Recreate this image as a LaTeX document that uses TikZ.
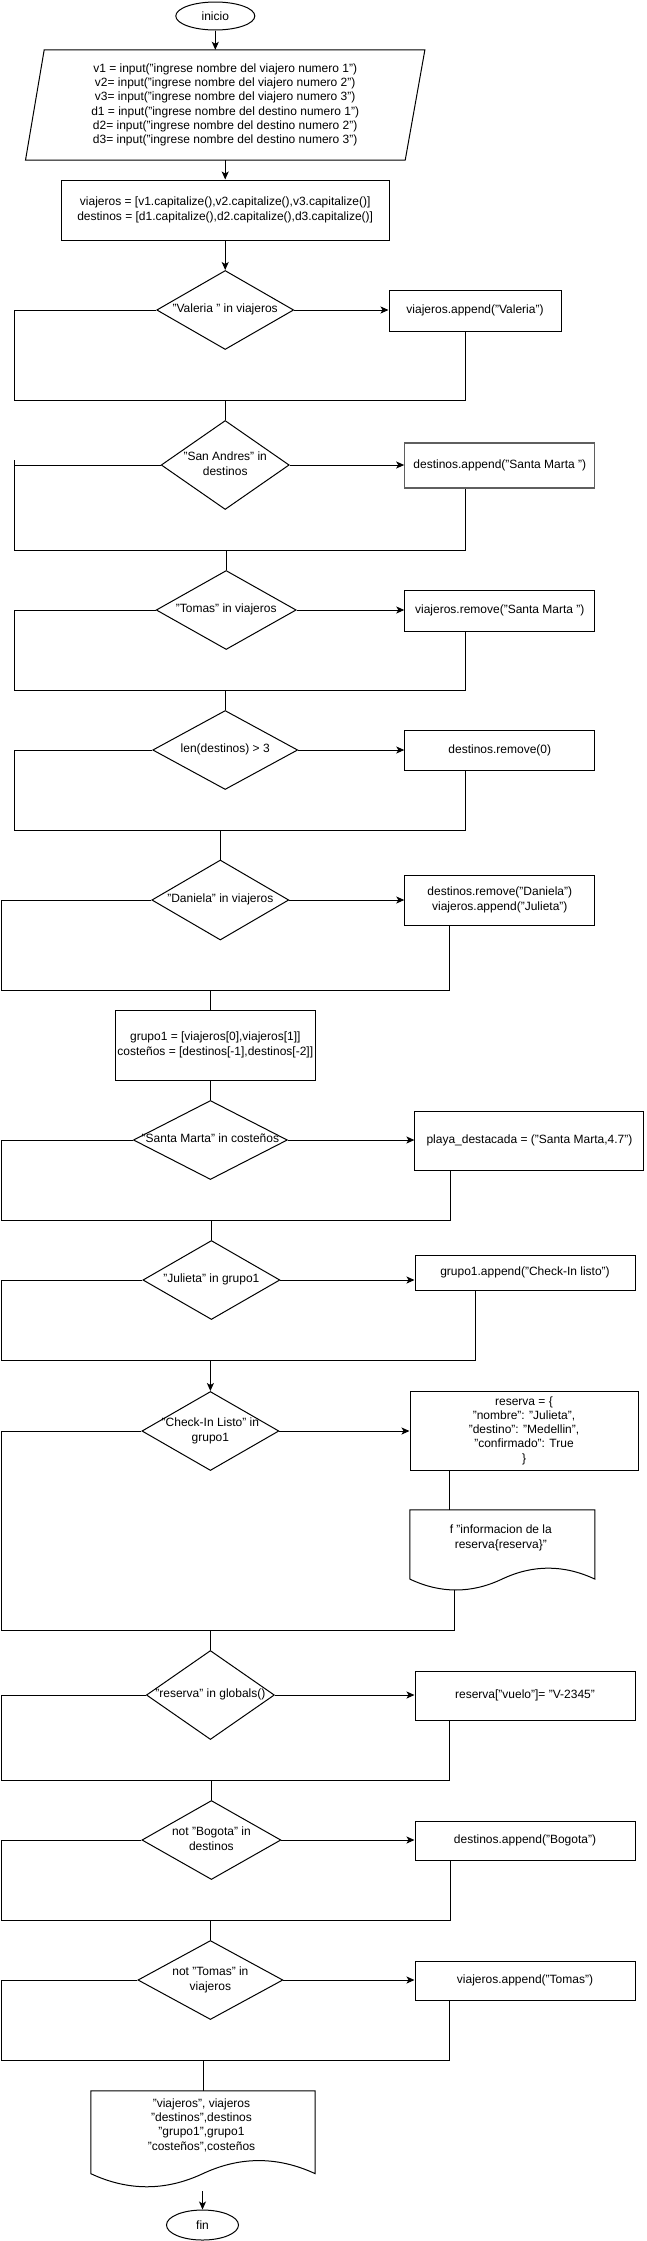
\documentclass[tikz,border=0pt]{standalone}
\usepackage{fontspec}
\setmainfont{Liberation Sans}
\usetikzlibrary{shapes.geometric,arrows.meta,calc}
\newcommand{\dtext}[1]{\makebox[0pt]{\begin{tabular}{@{}c@{}}#1\end{tabular}}}
\begin{document}
\begin{tikzpicture}[x=1pt,y=-1pt, font=\fontsize{12}{14.3}\selectfont,
 box/.style={draw, rectangle, inner sep=0pt, align=center, line width=1pt},
 diam/.style={draw, diamond, inner sep=0pt, line width=1pt},
 term/.style={draw, ellipse, inner sep=0pt, line width=1pt},
 ln/.style={line width=1pt},
 arr/.style={line width=1pt, -{Stealth[length=8pt,width=7pt,inset=2pt]}}
]
\useasboundingbox (0,0) rectangle (646,2241);

% start and input
\node[term, minimum width=79pt, minimum height=28pt] (inicio) at (215.3,16) {inicio};
\node[inner sep=0pt, minimum width=399pt, minimum height=110pt, align=center] (inp) at (225.2,105)
 {v1 = input("ingrese nombre del viajero numero 1")\\
  v2= input("ingrese nombre del viajero numero 2")\\
  v3= input("ingrese nombre del viajero numero 3")\\
  d1 = input("ingrese nombre del destino numero 1")\\
  d2= input("ingrese nombre del destino numero 2")\\
  d3= input("ingrese nombre del destino numero 3")};
\draw[ln] ($(inp.north west)+(18.7,0)$) -- (inp.north east) -- ($(inp.south east)+(-19.7,0)$) -- (inp.south west) -- cycle;
\node[box, minimum width=328pt, minimum height=60pt] (b0) at (225.2,210)
 {viajeros = [v1.capitalize(),v2.capitalize(),v3.capitalize()]\\
  destinos = [d1.capitalize(),d2.capitalize(),d3.capitalize()]};

% decisions and actions
\node[diam, minimum width=137pt, minimum height=79pt] (d1) at (225.2,310) {\dtext{"Valeria " in viajeros}};
\node[box, minimum width=172pt, minimum height=41pt] (b1) at (475,310.5) {viajeros.append("Valeria")};

\node[diam, minimum width=128pt, minimum height=89pt] (d2) at (225.2,465) {\dtext{"San Andres" in\\destinos}};
\node[box, draw={rgb,255:red,95;green,95;blue,95}, line width=1.2pt, minimum width=190pt, minimum height=45pt] (b2) at (499.8,465.5) {destinos.append("Santa Marta ")};

\node[diam, minimum width=140pt, minimum height=79pt] (d3) at (226.2,610) {\dtext{"Tomas" in viajeros}};
\node[box, minimum width=190pt, minimum height=41pt] (b3) at (499.8,610.5) {viajeros.remove("Santa Marta ")};

\node[diam, minimum width=145pt, minimum height=79pt] (d4) at (225.2,750) {\dtext{len(destinos) > 3}};
\node[box, minimum width=190pt, minimum height=40pt] (b4) at (499.8,750) {destinos.remove(0)};

\node[diam, minimum width=137pt, minimum height=80pt] (d5) at (220.3,900) {\dtext{"Daniela" in viajeros}};
\node[box, minimum width=190pt, minimum height=50pt] (b5) at (499.8,900) {destinos.remove("Daniela")\\viajeros.append("Julieta")};

\node[box, minimum width=199.5pt, minimum height=70pt] (g1) at (215.3,1045) {grupo1 = [viajeros[0],viajeros[1]]\\costeños = [destinos[-1],destinos[-2]]};

\node[diam, minimum width=154pt, minimum height=79pt] (d6) at (210.4,1140) {\dtext{"Santa Marta" in costeños}};
\node[box, minimum width=229pt, minimum height=59pt] (b6) at (529.4,1140.5) {playa\_destacada = ("Santa Marta,4.7")};

\node[diam, minimum width=137pt, minimum height=79pt] (d7) at (211.4,1280) {\dtext{"Julieta" in grupo1}};
\node[box, minimum width=220pt, minimum height=35pt] (b7) at (525,1272.5) {grupo1.append("Check-In listo")};

\node[diam, minimum width=137pt, minimum height=79pt] (d8) at (210.4,1431) {\dtext{"Check-In Listo" in\\grupo1}};
\node[box, minimum width=228pt, minimum height=79pt] (b8) at (524,1430.5)
 {reserva = \{\\"nombre": "Julieta",\\"destino": "Medellin",\\"confirmado": True\\\}};

\node[inner sep=0pt, minimum width=184.6pt, minimum height=81pt] (doc1) at (502.3,1550.5) {};
\node[align=center, inner sep=0pt] (doc1t) at (500.8,1538) {f "informacion de la\\reserva\{reserva\}"};
\draw[ln] (doc1.north west) -- (doc1.north east) -- ($(doc1.south east)+(0,-12.15)$)
 .. controls ($(doc1.south west)+(153.8,-26.7)$) and ($(doc1.south west)+(123.1,-26.7)$) .. ($(doc1.south west)+(92.3,-12.15)$)
 .. controls ($(doc1.south west)+(61.5,2.43)$) and ($(doc1.south west)+(30.8,2.43)$) .. ($(doc1.south west)+(0,-12.15)$) -- cycle;

\node[diam, minimum width=128pt, minimum height=89pt] (d9) at (210.4,1695) {\dtext{"reserva" in globals()}};
\node[box, minimum width=220pt, minimum height=49pt] (b9) at (525,1695.5) {reserva["vuelo"]= "V-2345"};

\node[diam, minimum width=139pt, minimum height=79pt] (d10) at (211.4,1840) {\dtext{not "Bogota" in\\destinos}};
\node[box, minimum width=220pt, minimum height=39pt] (b10) at (525,1840.5) {destinos.append("Bogota")};

\node[diam, minimum width=145pt, minimum height=79pt] (d11) at (210.4,1980) {\dtext{not "Tomas" in\\viajeros}};
\node[box, minimum width=220pt, minimum height=39pt] (b11) at (525,1980.5) {viajeros.append("Tomas")};

\node[inner sep=0pt, minimum width=224pt, minimum height=97pt] (doc2) at (203,2139.5) {};
\node[align=center, inner sep=0pt] (doc2t) at (201.5,2125) {"viajeros", viajeros\\"destinos",destinos\\"grupo1",grupo1\\"costeños",costeños};
\draw[ln] (doc2.north west) -- (doc2.north east) -- ($(doc2.south east)+(0,-14.55)$)
 .. controls ($(doc2.south west)+(186.7,-32)$) and ($(doc2.south west)+(149.3,-32)$) .. ($(doc2.south west)+(112,-14.55)$)
 .. controls ($(doc2.south west)+(74.7,2.91)$) and ($(doc2.south west)+(37.3,2.91)$) .. ($(doc2.south west)+(0,-14.55)$) -- cycle;

\node[term, minimum width=72pt, minimum height=30pt] (fin) at (202.5,2225) {fin};

% main flow
\draw[arr] (inicio.south) -- (inicio.south |- inp.north);
\draw[arr] (inp.south) -- (b0.north);
\draw[arr] (b0.south) -- (d1.north);

% merge coordinates
\coordinate (l1) at (14.8,400);  \coordinate (r1) at (465.2,400);
\coordinate (l2) at (14.8,550);  \coordinate (r2) at (465.2,550);
\coordinate (l3) at (14.8,690);  \coordinate (r3) at (465.2,690);
\coordinate (l4) at (14.8,830);  \coordinate (r4) at (465.2,830);
\coordinate (l5) at (1,990);     \coordinate (r5) at (449.4,990);  \coordinate (c5) at (210.4,990);
\coordinate (l6) at (1,1220);    \coordinate (r6) at (450.4,1220);
\coordinate (l7) at (1,1360);    \coordinate (r7) at (475,1360);
\coordinate (l8) at (1,1630);    \coordinate (r8) at (454.3,1630); \coordinate (t8) at (449.4,1490);
\coordinate (l9) at (1,1780);    \coordinate (r9) at (449.4,1780);
\coordinate (l10) at (1,1920);   \coordinate (r10) at (450.4,1920);
\coordinate (l11) at (1,2060);   \coordinate (r11) at (449.4,2060);
\coordinate (e11) at (202.5,2191);

% decision 1
\draw[arr] (d1.east) -- (b1.west |- d1.east);
\draw[ln] (d1.west) -| (l1) -- (r1) -- (b1.south -| r1);
\draw[ln] (l1 -| d2.north) -- (d2.north);
% decision 2
\draw[arr] (d2.east) -- (b2.west |- d2.east);
\draw[ln] (d2.west) -- (d2.west -| l2);
\draw[ln] ($(d2.west -| l2)+(0,-5)$) -- (l2) -- (r2) -- (b2.south -| r2);
\draw[ln] (l2 -| d3.north) -- (d3.north);
% decision 3
\draw[arr] (d3.east) -- (b3.west |- d3.east);
\draw[ln] (d3.west) -| (l3) -- (r3) -- (b3.south -| r3);
\draw[ln] (l3 -| d4.north) -- (d4.north);
% decision 4
\draw[arr] (d4.east) -- (b4.west |- d4.east);
\draw[ln] (d4.west) -| (l4) -- (r4) -- (b4.south -| r4);
\draw[ln] (l4 -| d5.north) -- (d5.north);
% decision 5
\draw[arr] (d5.east) -- (b5.west |- d5.east);
\draw[ln] (d5.west) -| (l5) -- (r5) -- (b5.south -| r5);
\draw[ln] (c5) -- (c5 |- g1.north);
\draw[ln] (g1.south -| d6.north) -- (d6.north);
% decision 6
\draw[arr] (d6.east) -- (b6.west |- d6.east);
\draw[ln] (d6.west) -| (l6) -- (r6) -- (b6.south -| r6);
\draw[ln] (l6 -| d7.north) -- (d7.north);
% decision 7
\draw[arr] (d7.east) -- (b7.west |- d7.east);
\draw[ln] (d7.west) -| (l7) -- (r7) -- (b7.south -| r7);
\draw[arr] (l7 -| d8.north) -- (d8.north);
% decision 8
\draw[arr] (d8.east) -- (b8.west |- d8.east);
\draw[ln] (b8.south -| t8) -- (doc1.north -| t8);
\draw[ln] (d8.west) -| (l8) -- (r8) -- ($(doc1.south -| r8)+(0,-1)$);
\draw[ln] (l8 -| d9.north) -- (d9.north);
% decision 9
\draw[arr] (d9.east) -- (b9.west |- d9.east);
\draw[ln] (d9.west) -| (l9) -- (r9) -- (b9.south -| r9);
\draw[ln] (l9 -| d10.north) -- (d10.north);
% decision 10
\draw[arr] (d10.east) -- (b10.west |- d10.east);
\draw[ln] (d10.west) -| (l10) -- (r10) -- (b10.south -| r10);
\draw[ln] (l10 -| d11.north) -- (d11.north);
% decision 11
\draw[arr] (d11.east) -- (b11.west |- d11.east);
\draw[ln] (d11.west) -| (l11) -- (r11) -- (b11.south -| r11);
\draw[ln] (l11 -| doc2.north) -- (doc2.north);
% end
\draw[arr] (e11) -- (fin.north);
\end{tikzpicture}
\end{document}
